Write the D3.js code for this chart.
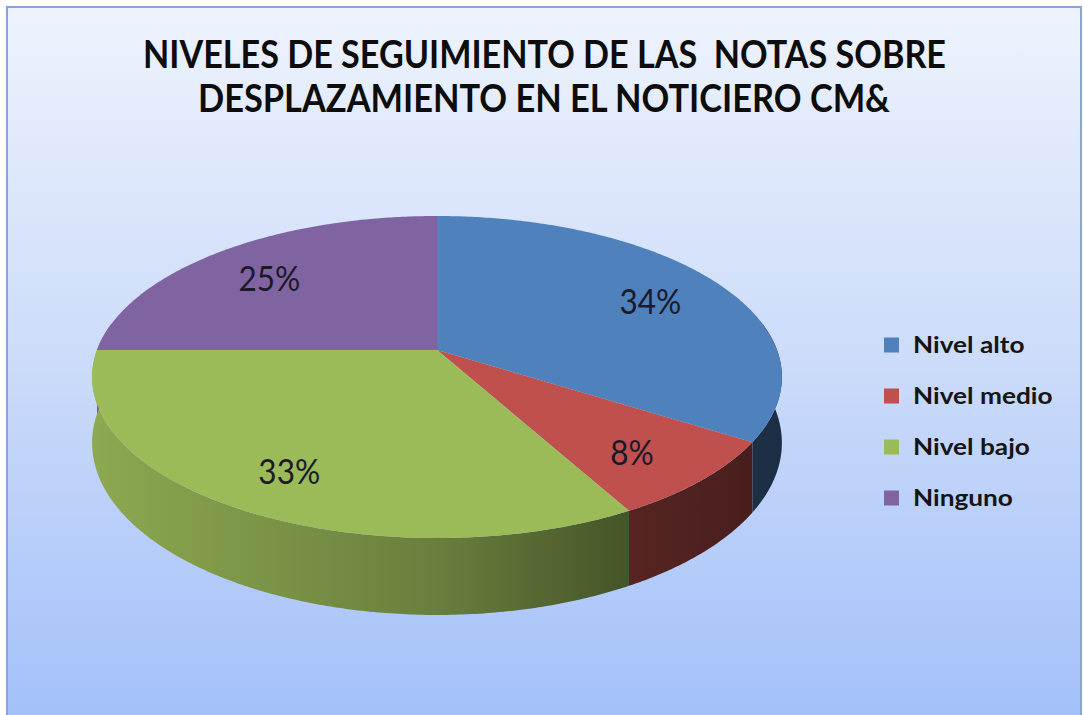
<!DOCTYPE html>
<html>
<head>
<meta charset="utf-8">
<script src="https://cdn.jsdelivr.net/npm/d3@7"></script>
<style>
  html, body { margin: 0; padding: 0; background: #fff; }
  svg { display: block; }
  text { white-space: pre; }
</style>
</head>
<body>
<div id="chart"></div>
<script>
const categories = ["Nivel alto", "Nivel medio", "Nivel bajo", "Ninguno"];
const values = [34, 8, 33, 25];
const colors = ["#4f81bd", "#c0504d", "#9bbb59", "#8064a2"];
const titleLines = ["NIVELES DE SEGUIMIENTO DE LAS  NOTAS SOBRE", "DESPLAZAMIENTO EN EL NOTICIERO CM&"];

const width = 1084, height = 715;

const svg = d3.select("#chart").append("svg")
    .attr("width", width)
    .attr("height", height);

const defs = svg.append("defs");

// chart area background
const bg = defs.append("linearGradient")
    .attr("id", "bg").attr("x1", 0).attr("y1", 0).attr("x2", 0).attr("y2", 1);
bg.append("stop").attr("offset", 0).attr("stop-color", "#eef3fd");
bg.append("stop").attr("offset", 0.5).attr("stop-color", "#cbdbf9");
bg.append("stop").attr("offset", 1).attr("stop-color", "#a2c0fa");

svg.append("rect")
    .attr("x", 7).attr("y", 7)
    .attr("width", 1074).attr("height", 720)
    .attr("fill", "url(#bg)")
    .attr("stroke", "#86a4d8")
    .attr("stroke-width", 2);

// title
const title = svg.append("g").attr("font-family", "Lato, 'Open Sans', sans-serif")
    .attr("font-weight", "bold").attr("fill", "#0d0d0d");
const titleSpan = [[143, 946, 68], [198, 890, 112]];
titleLines.forEach((t, i) => {
  const [x0, x1, y] = titleSpan[i];
  title.append("text")
      .attr("x", x0).attr("y", y)
      .attr("font-size", 38)
      .attr("textLength", x1 - x0)
      .attr("lengthAdjust", "spacingAndGlyphs")
      .text(t);
});

// 3D pie: projection of a flat disc seen from above with perspective
const cx = 437, cy = 350, rx = 340, ry = 156.5, depth = 64, persp = 5.96;

function project(a, r, h) {
  const X = r * Math.sin(a), Z = r * Math.cos(a);
  const s = persp / (persp + Z);
  return [cx + rx * X * s, cy + (-Z * ry + h) * s];
}

function arcPoints(a0, a1, r, h) {
  const n = Math.max(2, Math.ceil((a1 - a0) / 0.01));
  return d3.range(n + 1).map(i => project(a0 + (a1 - a0) * i / n, r, h));
}

const pie = d3.pie().sort(null).value(d => d.value);
const slices = pie(categories.map((c, i) => ({ name: c, value: values[i], color: colors[i] })));

const line = d3.line().curve(d3.curveLinear);

// side wall shading from left to right
slices.forEach((d, i) => {
  const base = d3.rgb(d.data.color);
  const g = defs.append("linearGradient")
      .attr("id", "side" + i)
      .attr("gradientUnits", "userSpaceOnUse")
      .attr("x1", cx - rx).attr("x2", cx + rx)
      .attr("y1", 0).attr("y2", 0);
  [[0, 0.9], [0.5, 0.68], [0.77, 0.46], [1, 0.36]].forEach(([o, k]) => {
    g.append("stop").attr("offset", o)
        .attr("stop-color", d3.rgb(base.r * k, base.g * k, base.b * k).formatHex());
  });
});

const pieG = svg.append("g");

// outer walls (front part only, the rest is hidden by the top)
const wallMin = Math.PI * 80 / 180, wallMax = Math.PI * 280 / 180;
slices.forEach((d, i) => {
  const a0 = Math.max(d.startAngle, wallMin), a1 = Math.min(d.endAngle, wallMax);
  if (a1 <= a0) return;
  const pts = arcPoints(a0, a1, 1, 0).concat(arcPoints(a0, a1, 1, depth).reverse());
  pieG.append("path")
      .attr("d", line(pts) + "Z")
      .attr("fill", "url(#side" + i + ")");
});

// top faces
slices.forEach(d => {
  const pts = [project(0, 0, 0)].concat(arcPoints(d.startAngle, d.endAngle, 1, 0));
  pieG.append("path")
      .attr("d", line(pts) + "Z")
      .attr("fill", d.data.color);
});

// percentage labels
const total = d3.sum(values);
slices.forEach(d => {
  const mid = (d.startAngle + d.endAngle) / 2;
  const [x, y] = project(mid, 0.76, 6);
  pieG.append("text")
      .attr("transform", `translate(${x},${y}) scale(0.9,1)`)
      .attr("text-anchor", "middle")
      .attr("dy", "0.36em")
      .attr("font-family", "Lato, 'Open Sans', sans-serif")
      .attr("font-size", 35)
      .attr("fill", "#1a1a2a")
      .text(Math.round(d.data.value / total * 100) + "%");
});

// legend
const legend = svg.append("g").attr("transform", "translate(884,345)");
categories.forEach((c, i) => {
  const item = legend.append("g").attr("transform", `translate(0,${i * 51})`);
  item.append("rect")
      .attr("x", 0).attr("y", -7.5)
      .attr("width", 15).attr("height", 15)
      .attr("fill", colors[i]);
  item.append("text")
      .attr("transform", "translate(29,0) scale(1.14,1)")
      .attr("dy", "0.35em")
      .attr("font-family", "Lato, 'Open Sans', sans-serif")
      .attr("font-weight", "bold")
      .attr("font-size", 23)
      .attr("fill", "#151515")
      .text(c);
});
</script>
</body>
</html>
